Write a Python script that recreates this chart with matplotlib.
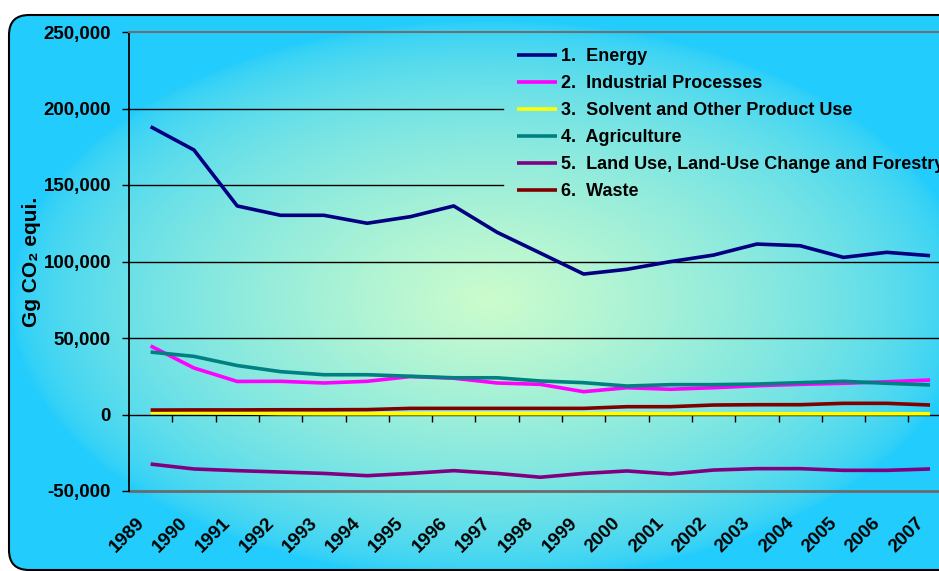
#! /usr/bin/env python3
# -*- coding: utf-8 -*-

""" greenhouse gas emissions by sector, 1989-2007 """

import numpy as np
import matplotlib
matplotlib.use('Agg')
import matplotlib.pyplot as plt
from matplotlib.patches import FancyBboxPatch
from matplotlib.ticker import FuncFormatter
from matplotlib.transforms import ScaledTranslation

plt.rcParams['font.family'] = ['Liberation Sans', 'DejaVu Sans']
plt.rcParams['font.weight'] = 'bold'

years = [str(y) for y in range(1989, 2008)]

# emissions in Gg CO2 equivalent (thousands)
energy = [188.1, 172.9, 136.3, 130.2, 130.2, 125.0, 129.3, 136.3, 119.1, 105.5,
          91.8, 94.9, 99.9, 104.2, 111.4, 110.3, 102.7, 106.0, 103.8]
industrial = [44.8, 30.4, 21.6, 21.7, 20.6, 21.7, 24.8, 23.7, 20.6, 19.7,
              14.9, 17.5, 16.5, 17.5, 18.8, 19.7, 20.4, 21.4, 22.5]
solvent = [1.3, 1.2, 1.0, 0.6, 0.5, 0.5, 0.5, 0.5, 0.5, 0.5,
           0.5, 0.5, 0.5, 0.5, 0.5, 0.5, 0.5, 0.5, 0.5]
agriculture = [40.8, 38.0, 32.0, 28.0, 26.0, 26.0, 25.0, 24.0, 24.0, 21.9,
               20.8, 18.6, 19.5, 19.5, 19.9, 20.8, 21.7, 20.4, 19.3]
lulucf = [-32.4, -35.6, -36.7, -37.6, -38.5, -40.0, -38.5, -36.7, -38.5, -41.0,
          -38.5, -36.9, -38.9, -36.3, -35.4, -35.4, -36.5, -36.5, -35.6]
waste = [2.9, 3.0, 3.0, 3.1, 3.1, 3.2, 4.0, 4.0, 4.0, 4.0,
         4.0, 5.1, 5.1, 6.2, 6.4, 6.4, 7.3, 7.3, 6.2]

series = [
    ('1.  Energy', energy, '#000080'),
    ('2.  Industrial Processes', industrial, '#ff00ff'),
    ('3.  Solvent and Other Product Use', solvent, '#ffff00'),
    ('4.  Agriculture', agriculture, '#008080'),
    ('5.  Land Use, Land-Use Change and Forestry', lulucf, '#800080'),
    ('6.  Waste', waste, '#800000'),
]

W, H = 939, 571
fig = plt.figure(figsize=(W / 100, H / 100), dpi=100)
fig.patch.set_facecolor('white')

# rounded panel with a radial cyan -> pale green fill
bg = fig.add_axes([0, 0, 1, 1], zorder=0)
bg.set_xlim(0, W)
bg.set_ylim(H, 0)
bg.axis('off')

yy, xx = np.mgrid[0:H, 0:W]
r = np.sqrt(((xx - 490) / 480.0) ** 2 + ((yy - 300) / 280.0) ** 2)
f = np.clip(1 - r, 0, 1) ** 0.6
cyan = np.array([0x22, 0xcc, 0xfc]) / 255
green = np.array([0xcc, 0xfc, 0xcc]) / 255
img = cyan + f[..., None] * (green - cyan)

panel = FancyBboxPatch((9, 15), 970, 555, boxstyle='round,pad=0,rounding_size=20',
                       facecolor='none', edgecolor='black', linewidth=1.5, zorder=3)
bg.add_patch(panel)
im = bg.imshow(img, extent=(0, W, H, 0), aspect='auto', zorder=1)
im.set_clip_path(panel)

ax = fig.add_axes([129 / W, 80 / H, (951.7 - 129) / W, 459 / H], zorder=1)
ax.set_facecolor('none')

x = np.arange(len(years))
for label, vals, color in series:
    ax.plot(x, np.array(vals) * 1000, color=color, lw=2.6, label=label,
            solid_capstyle='butt', zorder=3)

ax.set_xlim(-0.5, len(years) - 0.5)
ax.set_ylim(-50000, 250000)
ax.set_yticks(np.arange(-50000, 250001, 50000))
ax.yaxis.set_major_formatter(FuncFormatter(lambda v, p: f'{v:,.0f}'))
ax.tick_params(axis='y', direction='out', length=5, width=1, pad=8,
               labelsize=13.5, color='black')

# category axis crosses at zero; ticks sit between the years
ax.spines['bottom'].set_position(('data', 0))
ax.spines['bottom'].set_linewidth(1)
ax.spines['right'].set_visible(False)
ax.spines['top'].set_color('#707070')
ax.spines['top'].set_linewidth(1.5)
ax.spines['left'].set_linewidth(1.3)
ax.set_xticks(x[:-1] + 0.5)
ax.set_xticklabels([])
ax.set_xticks(x, minor=True)
ax.set_xticklabels(years, minor=True)
ax.tick_params(axis='x', which='major', direction='out', length=5, width=1)
ax.tick_params(axis='x', which='minor', length=0, pad=76, labelsize=13.5)
shift = ScaledTranslation(-9 / 100, 0, fig.dpi_scale_trans)
for lbl in ax.get_xticklabels(minor=True):
    lbl.set_rotation(45)
    lbl.set_ha('right')
    lbl.set_va('center')
    lbl.set_rotation_mode('anchor')
    lbl.set_transform(lbl.get_transform() + shift)

ax.axhline(-50000, color='#6b6b6b', lw=2, clip_on=False, zorder=2)

ax.set_ylabel('Gg CO\u2082 equi.', fontsize=15, fontweight='bold')
ax.yaxis.set_label_coords(-0.107, 0.5)

leg = ax.legend(loc='upper left', bbox_to_anchor=(503 / W, (H - 34) / H),
                bbox_transform=fig.transFigure, frameon=False, fontsize=13,
                borderpad=0.8, borderaxespad=0, handlelength=2.2,
                handletextpad=0.2, labelspacing=0.55)
for t in leg.get_texts():
    t.set_fontweight('bold')

# gridlines stop where they run into the legend
fig.canvas.draw()
lb = leg.get_window_extent()
ab = ax.get_window_extent()
for v in (50000, 100000, 150000, 200000):
    yd = ax.transData.transform((0, v))[1]
    xmax = 1.0
    if lb.y0 <= yd <= lb.y1:
        xmax = (lb.x0 - ab.x0) / ab.width
    ax.axhline(v, xmin=0, xmax=xmax, color='black', lw=1, zorder=1)

fig.savefig('out.png', dpi=100)
